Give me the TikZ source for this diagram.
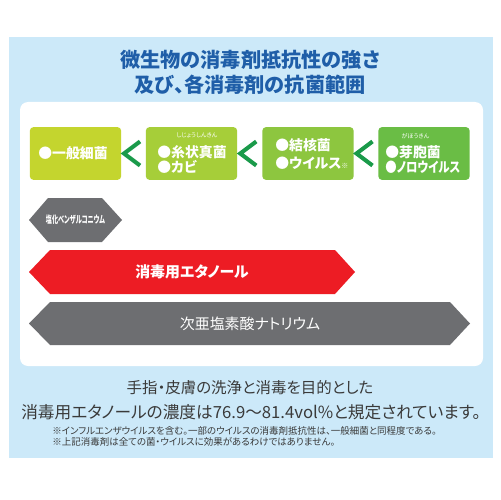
\documentclass[tikz,border=0pt]{standalone}
\usepackage{fontspec}
\setmainfont{Noto Sans CJK JP}[RawFeature=+palt]
\usetikzlibrary{calc}

\definecolor{panelblue}{HTML}{CCE9F9}
\definecolor{titleblue}{HTML}{1F5EA8}
\definecolor{boxA}{HTML}{C4D52E}
\definecolor{boxB}{HTML}{A6CE39}
\definecolor{boxC}{HTML}{8DC63F}
\definecolor{boxD}{HTML}{6ABD45}
\definecolor{chevgreen}{HTML}{1A9A4A}
\definecolor{hexred}{HTML}{ED1C24}
\definecolor{hexgray}{HTML}{6D6E71}
\definecolor{textgray}{HTML}{3A3A3A}

\tikzset{
  gbox/.style={rounded corners=0.08cm, minimum width=1.83cm, minimum height=1.06cm, inner sep=0pt},
  btxt/.style={anchor=west, inner sep=0pt, text=white, font=\bfseries\fontsize{7.9}{9}\selectfont},
  ruby/.style={inner sep=0pt, text=white, font=\fontsize{3.4}{4}\selectfont},
  chev/.style={draw=chevgreen, line width=2.3pt, miter limit=10},
  hexlabel/.style={inner sep=0pt, text=white, font=\fontsize{8.5}{10}\selectfont},
}

\begin{document}
\begin{tikzpicture}[x=0.02cm,y=-0.02cm]
		\useasboundingbox (0,0) rectangle (500,500);
		\fill[white] (0,0) rectangle (500,500);

		% panels
		\fill[panelblue] (9,37) rectangle (493,458);
		\fill[white,rounded corners=0.16cm] (20,102) rectangle (483,366);

		% title
		\node[text=titleblue, font=\bfseries\fontsize{11.5}{13}\selectfont] (t1) at (250,60) {微生物の消毒剤抵抗性の強さ};
		\node[text=titleblue, font=\bfseries\fontsize{11.5}{13}\selectfont] (t2) at (250,85) {及び、各消毒剤の抗菌範囲};

		% resistance boxes
		\node[gbox, fill=boxA] (g1) at (75.5,153.5) {};
		\node[gbox, fill=boxB] (g2) at (191.5,153.5) {};
		\node[gbox, fill=boxC] (g3) at (308,153.5) {};
		\node[gbox, fill=boxD] (g4) at (424,153.5) {};

		\node[btxt] (l1) at (38,153) {●一般細菌};
		\node[ruby] (r2) at (197,135) {しじょうしんきん};
		\node[btxt] (l2a) at (157,152) {●糸状真菌};
		\node[btxt] (l2b) at (157,167) {●カビ};
		\node[btxt] (l3a) at (275,145) {●結核菌};
		\node[btxt] (l3b) at (275,163) {●ウイルス{\fontsize{4}{5}\selectfont ※}};
		\node[ruby] (r4) at (415.5,136) {がほうきん};
		\node[btxt] (l4a) at (385,152) {●芽胞菌};
		\node[btxt] (l4b) at (385,167) {\scalebox{0.82}[1]{●ノロウイルス}};

		% chevrons between boxes
		\coordinate (c1) at ($(g1.east)!0.5!(g2.west)+(-1.5,0)$);
		\coordinate (c2) at ($(g2.east)!0.5!(g3.west)+(-1.5,0)$);
		\coordinate (c3) at ($(g3.east)!0.5!(g4.west)+(-1.5,0)$);
		\draw[chev] ($(c1)+(8,-12)$) -- ($(c1)+(-8,0)$) -- ($(c1)+(8,12)$);
		\draw[chev] ($(c2)+(8,-12)$) -- ($(c2)+(-8,0)$) -- ($(c2)+(8,12)$);
		\draw[chev] ($(c3)+(8,-12)$) -- ($(c3)+(-8,0)$) -- ($(c3)+(8,12)$);

		% disinfectant ranges
		\fill[hexgray] (29,220) -- (48,198) -- (102,198) -- (122,220) -- (102,242) -- (48,242) -- cycle;
		\node[inner sep=0pt, text=white, font=\bfseries\fontsize{5.8}{7}\selectfont] (h1) at (75.5,220) {\scalebox{0.6}[1]{塩化ベンザルコニウム}};

		\fill[hexred] (29,272) -- (50,250) -- (335,250) -- (355,272) -- (335,294) -- (50,294) -- cycle;
		\node[hexlabel, font=\bfseries\fontsize{8.5}{10}\selectfont] (h2) at (192,272) {消毒用エタノール};

		\fill[hexgray] (29,323.5) -- (50,302) -- (450,302) -- (470,323.5) -- (450,345) -- (50,345) -- cycle;
		\node[hexlabel] (h3) at (250,323.5) {次亜塩素酸ナトリウム};

		% notes below
		\node[text=textgray, font=\fontsize{8.8}{10}\selectfont] (b1) at (250,388) {手指・皮膚の洗浄と消毒を目的とした};
		\node[text=textgray, font=\fontsize{9.5}{11}\selectfont] (b2) at (251,412) {消毒用エタノールの濃度は76.9～81.4vol\%と規定されています。};
		\node[anchor=west, inner sep=0pt, align=left, text=textgray, font=\fontsize{5.4}{5.8}\selectfont] (n1) at (52,436.5) {※インフルエンザウイルスを含む。一部のウイルスの消毒剤抵抗性は、一般細菌と同程度である。\\※上記消毒剤は全ての菌・ウイルスに効果があるわけではありません。};
	\end{tikzpicture}
\end{document}
